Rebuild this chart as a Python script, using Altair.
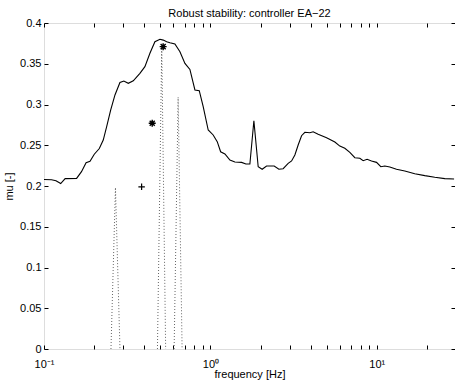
import altair as alt
import pandas as pd

# ---- data ----
freq = [0.100, 0.111, 0.118, 0.126, 0.134, 0.157, 0.168, 0.179, 0.189, 0.2005,
        0.215, 0.227, 0.238, 0.2515, 0.267, 0.286, 0.302, 0.321, 0.344, 0.377,
        0.404, 0.433, 0.464, 0.4975, 0.521, 0.546, 0.571, 0.612, 0.656, 0.703,
        0.753, 0.807, 0.857, 0.905, 0.970, 1.039, 1.099, 1.152, 1.222, 1.310,
        1.403, 1.540, 1.634, 1.727, 1.825, 1.937, 2.047, 2.175, 2.417, 2.579,
        2.736, 2.933, 3.075, 3.218, 3.368, 3.530, 3.695, 3.959, 4.144, 4.441,
        4.989, 5.595, 5.995, 6.424, 6.884, 7.379, 7.907, 8.276, 8.745, 9.293,
        9.958, 10.57, 11.17, 11.97, 13.13, 14.73, 16.91, 19.42, 22.30, 25.61, 29.13]
mu = [0.208, 0.2077, 0.2065, 0.203, 0.209, 0.2094, 0.2176, 0.2286, 0.2303, 0.239,
      0.246, 0.2564, 0.2728, 0.293, 0.3117, 0.327, 0.3288, 0.326, 0.329, 0.3383,
      0.3464, 0.3628, 0.377, 0.380, 0.379, 0.377, 0.3758, 0.3742, 0.3648, 0.3505,
      0.343, 0.3178, 0.317, 0.2973, 0.2687, 0.2626, 0.2544, 0.242, 0.2393, 0.2319,
      0.2294, 0.229, 0.227, 0.227, 0.2801, 0.2237, 0.2205, 0.2245, 0.2245, 0.2205,
      0.2212, 0.2278, 0.2307, 0.238, 0.2503, 0.2617, 0.2659, 0.2654, 0.2666, 0.2634,
      0.2593, 0.254, 0.249, 0.2463, 0.2413, 0.2347, 0.234, 0.231, 0.2327, 0.2307,
      0.229, 0.2237, 0.2245, 0.2233, 0.2205, 0.2184, 0.2151, 0.2127, 0.2107, 0.209, 0.2086]

spike_left = [0.2526, 0.4805, 0.6053]
spike_apex = [0.2688, 0.5100, 0.6398]
spike_right = [0.2861, 0.5383, 0.6761]
spike_height = [0.198, 0.370, 0.309]

star_f = [0.447, 0.520]
star_mu = [0.277, 0.371]
plus_f = [0.386]
plus_mu = [0.199]

x_ticks = [0.1, 0.2, 0.3, 0.4, 0.5, 0.6, 0.7, 0.8, 0.9,
           1, 2, 3, 4, 5, 6, 7, 8, 9, 10, 20]
y_ticks = [0, 0.05, 0.1, 0.15, 0.2, 0.25, 0.3, 0.35, 0.4]

FONT = "Liberation Sans"

# ---- tables ----
curve = pd.DataFrame({"f": freq, "mu": mu})
rows = []
for i in range(len(spike_apex)):
    rows += [
        {"f": spike_left[i], "mu": 0.0, "g": i, "o": 0},
        {"f": spike_apex[i], "mu": spike_height[i], "g": i, "o": 1},
        {"f": spike_right[i], "mu": 0.0, "g": i, "o": 2},
    ]
spikes = pd.DataFrame(rows)
stars = pd.DataFrame({"f": star_f, "mu": star_mu})
pluses = pd.DataFrame({"f": plus_f, "mu": plus_mu})

xscale = alt.Scale(type="log", domain=[0.1, 29.5], nice=False)
yscale = alt.Scale(domain=[0, 0.4], nice=False, zero=False)

label_expr = ("datum.value == 0.1 ? '10⁻¹' : datum.value == 1 ? '10⁰' : "
              "datum.value == 10 ? '10¹' : ''")

x_bottom = alt.Axis(orient="bottom", values=x_ticks, labelExpr=label_expr,
                    offset=-4, tickSize=4, tickColor="black", domain=False,
                    grid=False, labelFlush=False, labelOverlap=False,
                    labelPadding=9, labelFontSize=11, labelFont=FONT,
                    labelColor="black", title="frequency [Hz]",
                    titleFontSize=11, titleFont=FONT, titleFontWeight="normal",
                    titleColor="black", titlePadding=-1)
y_left = alt.Axis(orient="left", values=y_ticks, format=".2~f", offset=-4,
                  tickSize=4, tickColor="black", domain=False, grid=False,
                  labelPadding=3, labelFontSize=11, labelFont=FONT,
                  labelColor="black", labelFlush=False, labelOverlap=False,
                  title="mu [-]", titleFontSize=11, titleFont=FONT,
                  titleFontWeight="normal", titleColor="black", titlePadding=5)
x_top = alt.Axis(orient="top", values=x_ticks, labels=False, offset=-4,
                 tickSize=4, tickColor="black", domain=False, grid=False,
                 title=None)
y_right = alt.Axis(orient="right", values=y_ticks, labels=False, offset=-4,
                   tickSize=4, tickColor="black", domain=False, grid=False,
                   title=None)

line = alt.Chart(curve).mark_line(color="black", strokeWidth=1.1).encode(
    x=alt.X("f:Q", scale=xscale, axis=x_bottom),
    y=alt.Y("mu:Q", scale=yscale, axis=y_left),
    order="f:Q",
)

spk = alt.Chart(spikes).mark_line(color="#666666", strokeWidth=1,
                                   strokeDash=[1, 2]).encode(
    x=alt.X("f:Q", scale=xscale, axis=x_top),
    y=alt.Y("mu:Q", scale=yscale, axis=y_right),
    detail="g:N",
    order="o:Q",
)

star_path = ("M-1,0L1,0M0,-1L0,1M-0.72,-0.72L0.72,0.72M-0.72,0.72L0.72,-0.72")
plus_path = "M-1,0L1,0M0,-1L0,1"

st = alt.Chart(stars).mark_point(shape=star_path, size=49, filled=False,
                                  color="black", strokeWidth=1.4,
                                  opacity=1).encode(
    x=alt.X("f:Q", scale=xscale, axis=None),
    y=alt.Y("mu:Q", scale=yscale, axis=None),
)
pl = alt.Chart(pluses).mark_point(shape=plus_path, size=42, filled=False,
                                   color="black", strokeWidth=1.2,
                                   opacity=1).encode(
    x=alt.X("f:Q", scale=xscale, axis=None),
    y=alt.Y("mu:Q", scale=yscale, axis=None),
)

chart = alt.layer(line, spk, st, pl).resolve_axis(
    x="independent", y="independent"
).properties(
    width=411, height=326,
    title=alt.TitleParams("Robust stability: controller EA−22", fontSize=11,
                          font=FONT, fontWeight="normal", color="black",
                          anchor="middle", offset=-2),
    autosize=alt.AutoSizeParams(type="none"),
    padding={"left": 44, "top": 23, "right": 0, "bottom": 36},
).configure_view(stroke="black", strokeWidth=1).configure(background="white")

chart.save("out.html", embed_options={"renderer": "svg", "actions": False})
